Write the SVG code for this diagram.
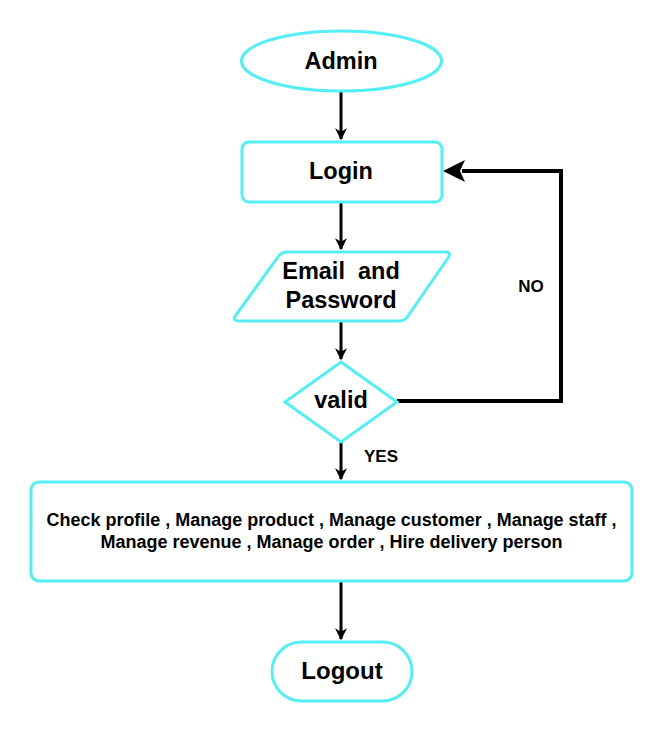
<svg xmlns="http://www.w3.org/2000/svg" width="663" height="733" viewBox="0 0 663 733">
<style>
.n{fill:#fff;stroke:#55EEF4;stroke-width:3}
.t{font-family:"Liberation Sans",Arial,sans-serif;font-weight:bold;fill:#000;text-anchor:middle}
.c{fill:none;stroke:#000;stroke-width:3}
</style>
<defs>
<marker id="ah" viewBox="0 0 10 10" refX="9" refY="5" markerWidth="4" markerHeight="4" markerUnits="strokeWidth" orient="auto">
<path d="M0,0 L10,5 L0,10 L3,5 Z" fill="#000"/>
</marker>
</defs>
<rect width="663" height="733" fill="#fff"/>
<g id="connectors">
<path class="c" d="M341,91 V139" marker-end="url(#ah)"/>
<path class="c" d="M341,202 V249" marker-end="url(#ah)"/>
<path class="c" d="M341,321 V359" marker-end="url(#ah)"/>
<path class="c" d="M341,442 V479" marker-end="url(#ah)"/>
<path class="c" d="M341,582 V639" marker-end="url(#ah)"/>
<path d="M397,401 H561 V171 H462" fill="none" stroke="#000" stroke-width="4"/>
<path d="M443,171 L465,160 L460,171 L465,182 Z" fill="#000"/>
<text class="t" x="531" y="292" font-size="17">NO</text>
<text class="t" x="381" y="462" font-size="17">YES</text>
</g>
<g id="admin">
<ellipse class="n" cx="341.5" cy="61" rx="100" ry="30"/>
<text class="t" x="341" y="69" font-size="23.5">Admin</text>
</g>
<g id="login">
<rect class="n" x="242" y="142" width="200" height="60" rx="7"/>
<text class="t" x="341" y="179" font-size="23.5">Login</text>
</g>
<g id="email">
<path class="n" d="M287,252 H445 Q452,252 448,258 L408,316 Q405,321 399,321 H240 Q231,321 236,315 L278,257 Q281,252 287,252 Z"/>
<text class="t" x="341" y="279" font-size="23.5" xml:space="preserve">Email  and</text>
<text class="t" x="341" y="308" font-size="23.5">Password</text>
</g>
<g id="valid">
<path class="n" d="M341,362 L397,402 L341,442 L285,402 Z"/>
<text class="t" x="341" y="408" font-size="23.5">valid</text>
</g>
<g id="tasks">
<rect class="n" x="31" y="482" width="601" height="99" rx="8"/>
<text class="t" x="331.5" y="526" font-size="17.5" textLength="570" lengthAdjust="spacingAndGlyphs">Check profile , Manage product , Manage customer , Manage staff ,</text>
<text class="t" x="331.5" y="548" font-size="17.5" textLength="462" lengthAdjust="spacingAndGlyphs">Manage revenue , Manage order , Hire delivery person</text>
</g>
<g id="logout">
<rect class="n" x="272" y="642" width="140" height="59" rx="29.5"/>
<text class="t" x="342" y="679" font-size="24">Logout</text>
</g>
</svg>
